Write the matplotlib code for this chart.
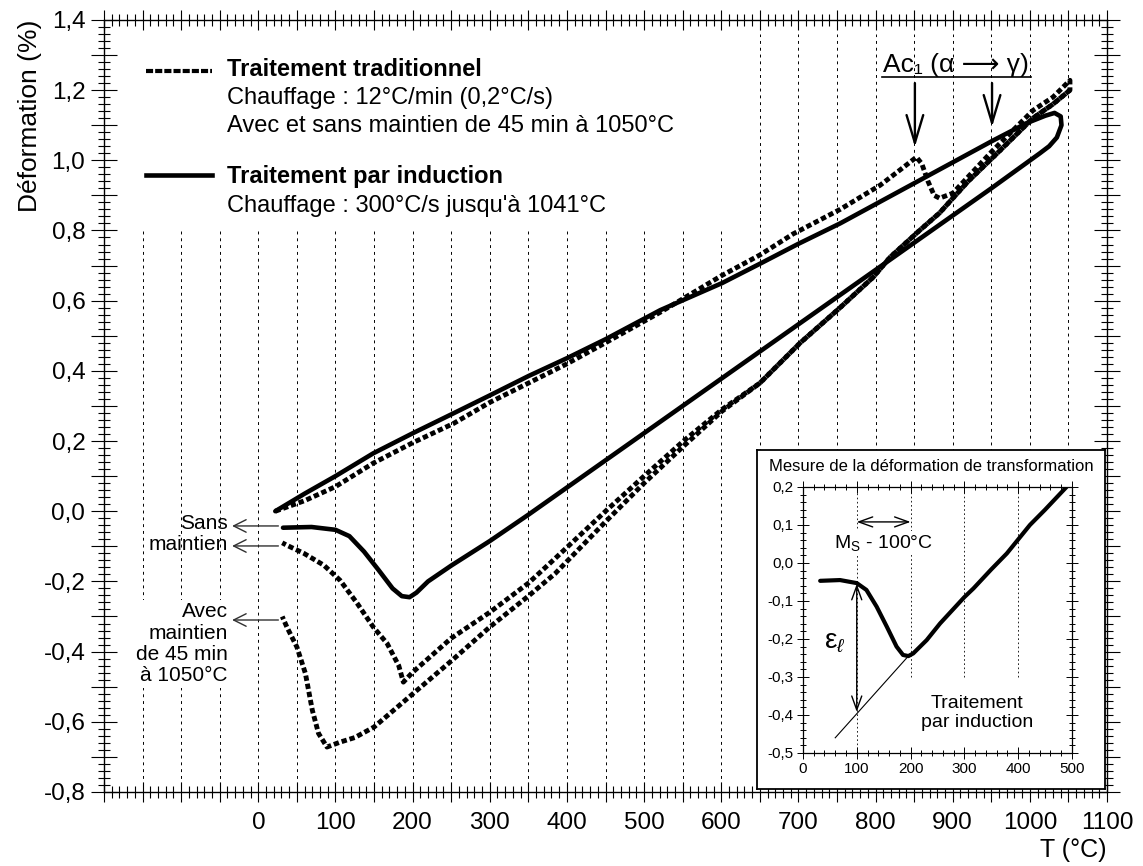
import matplotlib.pyplot as plt
from matplotlib.patches import Rectangle
from matplotlib.ticker import FixedLocator, FixedFormatter, MultipleLocator

plt.rcParams['font.family'] = ['Liberation Sans', 'DejaVu Sans']
plt.rcParams['mathtext.fontset'] = 'custom'
plt.rcParams['mathtext.rm'] = 'Liberation Sans'
plt.rcParams['mathtext.it'] = 'Liberation Sans:italic'
plt.rcParams['mathtext.bf'] = 'Liberation Sans:bold'

# ============== 1. Données (T en °C, déformation en %) ==============
# Traitement traditionnel : chauffage (commun aux deux essais)
trad_chauf_T = [22, 60, 100, 149, 200, 253, 300, 350, 400, 450, 521, 601, 650, 693,
                754, 806, 835, 853, 860, 868, 876, 883, 900, 952, 1004, 1030, 1052]
trad_chauf_def = [0.0, 0.03, 0.07, 0.137, 0.195, 0.25, 0.31, 0.365, 0.42, 0.48, 0.567,
                  0.672, 0.73, 0.79, 0.86, 0.929, 0.978, 1.009, 0.99, 0.94, 0.90, 0.892,
                  0.906, 1.028, 1.142, 1.18, 1.228]

# Traitement traditionnel : début du refroidissement (austénite)
trad_refr_T = [1052, 1030, 1004, 960, 920, 883, 857, 819, 797, 754, 702, 650]
trad_refr_def = [1.20, 1.16, 1.12, 1.025, 0.94, 0.85, 0.80, 0.724, 0.667, 0.58, 0.479, 0.365]

# fin du refroidissement sans maintien
sans_T = [650, 601, 551, 500, 450, 385, 350, 300, 250, 200, 188, 182, 167, 149, 128,
          106, 85, 59, 37, 31]
sans_def = [0.365, 0.29, 0.20, 0.10, 0.0, -0.134, -0.205, -0.288, -0.362, -0.459, -0.487,
            -0.44, -0.377, -0.33, -0.262, -0.197, -0.154, -0.12, -0.097, -0.09]

# fin du refroidissement avec maintien de 45 min à 1050°C
avec_T = [650, 601, 551, 500, 450, 385, 351, 300, 251, 201, 150, 125, 106, 89, 78, 70,
          61, 50, 37, 31]
avec_def = [0.365, 0.285, 0.185, 0.08, -0.03, -0.177, -0.24, -0.33, -0.425, -0.519,
            -0.615, -0.645, -0.658, -0.672, -0.633, -0.567, -0.462, -0.387, -0.33, -0.30]

# Traitement par induction : chauffage puis refroidissement
ind_chauf_T = [22, 60, 100, 149, 200, 253, 300, 350, 400, 450, 521, 601, 650, 700, 754,
               806, 853, 900, 952, 996, 1020, 1032, 1040, 1041]
ind_chauf_def = [0.0, 0.05, 0.1, 0.165, 0.222, 0.279, 0.33, 0.385, 0.436, 0.49, 0.573,
                 0.65, 0.705, 0.762, 0.82, 0.882, 0.938, 0.994, 1.056, 1.106, 1.127,
                 1.135, 1.125, 1.10]
ind_refr_T = [1041, 1035, 1025, 1013, 950, 850, 750, 650, 550, 450, 350, 300, 250, 220,
              205, 196, 186, 174, 156, 137, 118, 100, 69, 32]
ind_refr_def = [1.10, 1.065, 1.04, 1.02, 0.92, 0.765, 0.61, 0.455, 0.30, 0.145, -0.01,
                -0.085, -0.155, -0.20, -0.232, -0.245, -0.242, -0.22, -0.168, -0.115,
                -0.071, -0.053, -0.045, -0.047]

# Encart : zoom sur la transformation martensitique (induction)
enc_T = [32, 69, 100, 118, 137, 156, 174, 186, 196, 205, 230, 255, 300, 317, 350, 379,
         422, 450, 490]
enc_def = [-0.047, -0.045, -0.053, -0.071, -0.115, -0.168, -0.22, -0.242, -0.245, -0.238,
           -0.203, -0.159, -0.09, -0.067, -0.017, 0.025, 0.10, 0.14, 0.20]
# droite d'extrapolation de la dilatation de la martensite
ext_T = [60, 196]
ext_def = [-0.46, -0.245]

# Graduations
T_major = list(range(-200, 1101, 50))
T_labels = [str(t) if t >= 0 and t % 100 == 0 else '' for t in T_major]
def_major = [round(-0.8 + 0.1 * i, 1) for i in range(23)]
def_labels = ['-0,8', '', '-0,6', '', '-0,4', '', '-0,2', '', '0,0', '', '0,2', '',
              '0,4', '', '0,6', '', '0,8', '', '1,0', '', '1,2', '', '1,4']
enc_x_ticks = [0, 100, 200, 300, 400, 500]
enc_x_labels = ['0', '100', '200', '300', '400', '500']
enc_y_ticks = [-0.5, -0.4, -0.3, -0.2, -0.1, 0.0, 0.1, 0.2]
enc_y_labels = ['-0,5', '-0,4', '-0,3', '-0,2', '-0,1', '0,0', '0,1', '0,2']

grille_T = list(range(-150, 1051, 50))
enc_grille_T = [100, 200, 300, 400]

# ============== 2. Figure ==============
fig = plt.figure(figsize=(11.43, 8.66), dpi=100)
ax = fig.add_axes([0.0910, 0.0855, 0.8775, 0.8915])

style_trad = dict(color='k', lw=3.5, dashes=(1.1, 0.6), dash_capstyle='butt', zorder=4)
style_ind = dict(color='k', lw=3.3, solid_capstyle='round', solid_joinstyle='round', zorder=5)

# lignes verticales pointillées tous les 50°C
ax.vlines(grille_T, -0.8, 1.36, colors='k', lw=0.7, linestyles=(0, (3, 4)), zorder=1)
# fond blanc sous la légende
ax.add_patch(Rectangle((-195, 0.80), 820, 0.59, facecolor='white', edgecolor='none', zorder=1.5))

# essai sans maintien et essai avec maintien
ax.plot(trad_chauf_T + trad_refr_T + sans_T, trad_chauf_def + trad_refr_def + sans_def, **style_trad)
ax.plot(trad_refr_T + avec_T, trad_refr_def + avec_def, **style_trad)
# induction
ax.plot(ind_chauf_T + ind_refr_T, ind_chauf_def + ind_refr_def, **style_ind)

ax.set_xlim(-200, 1100)
ax.set_ylim(-0.8, 1.4)
ax.xaxis.set_major_locator(FixedLocator(T_major))
ax.xaxis.set_major_formatter(FixedFormatter(T_labels))
ax.xaxis.set_minor_locator(MultipleLocator(10))
ax.yaxis.set_major_locator(FixedLocator(def_major))
ax.yaxis.set_major_formatter(FixedFormatter(def_labels))
ax.yaxis.set_minor_locator(MultipleLocator(0.02))
ax.tick_params(which='both', direction='inout', top=True, right=True, width=0.8, labelsize=17.5)
ax.tick_params(axis='x', which='major', length=15, pad=7)
ax.tick_params(axis='x', which='minor', length=9)
ax.tick_params(axis='y', which='major', length=19, pad=4)
ax.tick_params(axis='y', which='minor', length=9)
for s in ax.spines.values():
    s.set_linewidth(1.0)

ax.set_xlabel('T (°C)', loc='right', fontsize=18, labelpad=3)
ax.set_ylabel('Déformation (%)', loc='top', fontsize=19, labelpad=1)

# légende faite à la main
ax.plot([-146, -60], [1.255, 1.255], color='k', lw=3.0, dashes=(1.7, 0.5), dash_capstyle='butt')
ax.plot([-146, -60], [0.957, 0.957], color='k', lw=3.3)
ax.text(-40, 1.258, 'Traitement traditionnel', fontsize=17, fontweight='bold', va='center')
ax.text(-40, 1.178, 'Chauffage : 12°C/min (0,2°C/s)', fontsize=17, va='center')
ax.text(-40, 1.098, 'Avec et sans maintien de 45 min à 1050°C', fontsize=17, va='center')
ax.text(-40, 0.955, 'Traitement par induction', fontsize=17, fontweight='bold', va='center')
ax.text(-40, 0.870, "Chauffage : 300°C/s jusqu'à 1041°C", fontsize=17, va='center')

# Ac1
ax.text(904, 1.252, 'Ac₁ (α ⟶ γ)', fontsize=19, ha='center', va='baseline')
ax.plot([808, 1002], [1.236, 1.236], color='k', lw=1.2)
fleche_ac = dict(arrowstyle='->, head_length=2.0, head_width=0.6', color='k', lw=1.7,
                 shrinkA=0, shrinkB=0)
ax.annotate('', xy=(851, 1.038), xytext=(851, 1.22), arrowprops=fleche_ac)
ax.annotate('', xy=(951, 1.095), xytext=(951, 1.22), arrowprops=fleche_ac)

# étiquettes à gauche des courbes
fleche_g = dict(arrowstyle='->, head_length=0.9, head_width=0.45', color='#303030', lw=1.0,
                shrinkA=0, shrinkB=0)
ax.text(-40, -0.065, 'Sans\nmaintien', fontsize=15, ha='right', va='center',
        multialignment='right', linespacing=1.15)
ax.annotate('', xy=(-34, -0.042), xytext=(26, -0.042), arrowprops=fleche_g)
ax.annotate('', xy=(-34, -0.099), xytext=(26, -0.099), arrowprops=fleche_g)
ax.text(-40, -0.378, 'Avec\nmaintien\nde 45 min\nà 1050°C', fontsize=15, ha='right',
        va='center', multialignment='right', linespacing=1.15, zorder=3,
        bbox=dict(facecolor='white', edgecolor='none', pad=2))
ax.annotate('', xy=(-34, -0.31), xytext=(26, -0.31), arrowprops=fleche_g)

# ============== 3. Encart ==============
cadre = fig.add_axes([0.6623, 0.0889, 0.3045, 0.3915], zorder=2)
cadre.set_xticks([])
cadre.set_yticks([])
cadre.set_facecolor('white')
for s in cadre.spines.values():
    s.set_linewidth(1.3)
cadre.text(0.5, 0.950, 'Mesure de la déformation de transformation', fontsize=12,
           ha='center', va='center', transform=cadre.transAxes)

ins = fig.add_axes([0.7025, 0.1305, 0.2353, 0.3072], zorder=3)
ins.patch.set_alpha(0)
ins.vlines([enc_grille_T[0]], -0.5, 0.2, colors='k', lw=0.6, linestyles=(0, (2, 3)), zorder=1)
ins.vlines(enc_grille_T[1:], -0.3, 0.2, colors='k', lw=0.6, linestyles=(0, (2, 3)), zorder=1)
ins.plot(ext_T, ext_def, color='k', lw=0.8, zorder=3)
ins.plot(enc_T, enc_def, color='k', lw=3.0, solid_capstyle='round', zorder=4)

fleche_d = dict(arrowstyle='<->, head_length=0.5, head_width=0.18', color='k', lw=1.0,
                shrinkA=0, shrinkB=0, mutation_scale=20)
ins.annotate('', xy=(100, 0.108), xytext=(200, 0.108), arrowprops=fleche_d)
ins.annotate('', xy=(100, -0.055), xytext=(100, -0.392), arrowprops=fleche_d)
ins.text(150, 0.053, r'M$_{\mathrm{S}}$ - 100°C', fontsize=14, ha='center', va='center', zorder=2,
         bbox=dict(facecolor='white', edgecolor='none', pad=1))
ins.text(60, -0.205, r'ε$_{\ell}$', fontsize=20, ha='center', va='center')
ins.text(323, -0.395, 'Traitement\npar induction', fontsize=14, ha='center', va='center',
         linespacing=1.1)

ins.set_xlim(0, 500)
ins.set_ylim(-0.5, 0.2)
ins.xaxis.set_major_locator(FixedLocator(enc_x_ticks))
ins.xaxis.set_major_formatter(FixedFormatter(enc_x_labels))
ins.xaxis.set_minor_locator(MultipleLocator(20))
ins.yaxis.set_major_locator(FixedLocator(enc_y_ticks))
ins.yaxis.set_major_formatter(FixedFormatter(enc_y_labels))
ins.yaxis.set_minor_locator(MultipleLocator(0.02))
ins.tick_params(which='both', direction='inout', top=True, right=True, width=0.7, labelsize=11)
ins.tick_params(which='major', length=9, pad=2)
ins.tick_params(which='minor', length=5)
for s in ins.spines.values():
    s.set_linewidth(0.9)

fig.savefig('out.png', dpi=100)
